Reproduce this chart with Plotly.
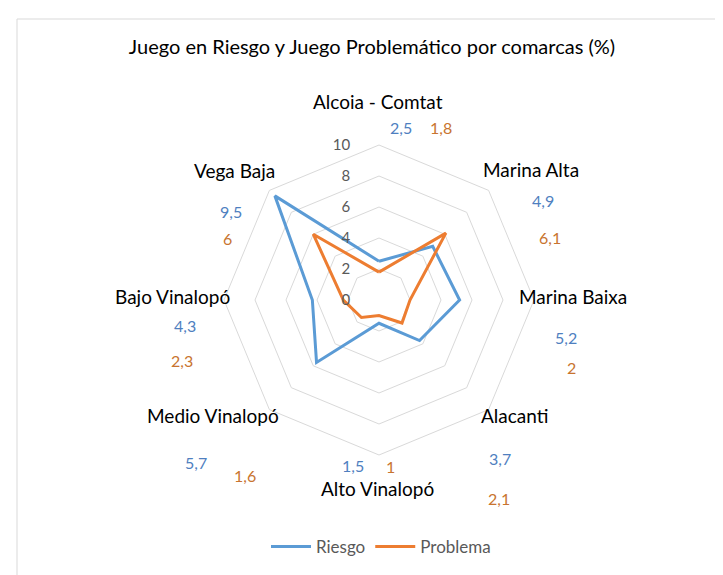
import plotly.graph_objects as go

# ---- data ----
categories = ["Alcoia - Comtat", "Marina Alta", "Marina Baixa", "Alacanti",
              "Alto Vinalopó", "Medio Vinalopó", "Bajo Vinalopó", "Vega Baja"]
riesgo = [2.5, 4.9, 5.2, 3.7, 1.5, 5.7, 4.3, 9.5]
problema = [1.8, 6.1, 2.0, 2.1, 1.0, 1.6, 2.3, 6.0]
radial_ticks = [0, 2, 4, 6, 8, 10]
title_text = "Juego en Riesgo y Juego Problemático por comarcas (%)"

# ---- styling / layout ----
W, H = 723, 575
FONT = "Lato, 'Open Sans', sans-serif"
BLUE = "#5B9BD5"
ORANGE = "#ED7D31"
BLUE_TXT = "#4F7FBF"
ORANGE_TXT = "#C8742F"
GRID = "#D9D9D9"

cx, cy, rad = 371, 292, 155  # pixel centre / radius of the radar
DY = -8  # vertical text correction
FS = "\u2007"  # figure space, pushes the centred radial tick labels to the left of the axis


def px(x):
    return x / W


def py(y):
    return 1 - y / H


def fmt(v):
    s = ("%g" % v)
    return s.replace(".", ",")


def closed(lst):
    return list(lst) + [lst[0]]


tick_text = [str(t) + FS * 3 for t in radial_ticks]

fig = go.Figure()
fig.add_trace(go.Scatterpolar(r=closed(riesgo), theta=closed(categories), mode="lines",
                              name="Riesgo", line=dict(color=BLUE, width=3)))
fig.add_trace(go.Scatterpolar(r=closed(problema), theta=closed(categories), mode="lines",
                              name="Problema", line=dict(color=ORANGE, width=3)))

# label placement (pixel centres) for category names and data labels
cat_pos = [(370, 102), (523, 169), (565, 296), (507, 415),
           (369, 488), (205, 416), (164, 296), (226, 170)]
riesgo_pos = [(393, 127), (535, 200), (558, 337), (492, 458),
              (345, 465), (188, 462), (177, 325), (223, 212)]
problema_pos = [(433, 127), (542, 237), (563, 367), (491, 498),
                (382, 466), (237, 475), (174, 360), (220, 238)]

annotations = []
for name, (x, y) in zip(categories, cat_pos):
    annotations.append(dict(x=px(x), y=py(y + DY), xref="paper", yref="paper", text=name,
                            showarrow=False, xanchor="center", yanchor="middle",
                            font=dict(family=FONT, size=19, color="#000000")))
for v, (x, y) in zip(riesgo, riesgo_pos):
    annotations.append(dict(x=px(x), y=py(y + DY), xref="paper", yref="paper", text=fmt(v),
                            showarrow=False, xanchor="center", yanchor="middle",
                            font=dict(family=FONT, size=16, color=BLUE_TXT)))
for v, (x, y) in zip(problema, problema_pos):
    annotations.append(dict(x=px(x), y=py(y + DY), xref="paper", yref="paper", text=fmt(v),
                            showarrow=False, xanchor="center", yanchor="middle",
                            font=dict(family=FONT, size=16, color=ORANGE_TXT)))

fig.update_layout(
    width=W, height=H,
    margin=dict(l=0, r=0, t=0, b=0),
    paper_bgcolor="white",
    plot_bgcolor="white",
    title=dict(text=title_text, x=px(364), xanchor="center", y=py(47 + DY), yanchor="middle",
               font=dict(family=FONT, size=20, color="#000000")),
    polar=dict(
        domain=dict(x=[px(cx - rad), px(cx + rad)], y=[py(cy + rad), py(cy - rad)]),
        bgcolor="white",
        gridshape="linear",
        radialaxis=dict(range=[0, 10], tickvals=radial_ticks, ticktext=tick_text, angle=90,
                        side="counterclockwise", tickangle=90,
                        showline=False, ticks="", gridcolor=GRID, gridwidth=1,
                        tickfont=dict(family=FONT, size=15, color="#595959")),
        angularaxis=dict(direction="clockwise", rotation=90, showgrid=False,
                         showline=True, linecolor=GRID, linewidth=1,
                         showticklabels=False, ticks=""),
    ),
    showlegend=True,
    legend=dict(orientation="h", x=px(373), xanchor="center", y=py(545 + DY + 2), yanchor="middle",
                font=dict(family=FONT, size=17, color="#595959"),
                itemwidth=40, tracegroupgap=0, bgcolor="rgba(0,0,0,0)"),
    annotations=annotations,
    shapes=[dict(type="rect", xref="paper", yref="paper",
                 x0=px(9), x1=1.02, y0=-0.02, y1=py(11),
                 line=dict(color=GRID, width=1), fillcolor="rgba(0,0,0,0)", layer="below")],
)

fig.write_html("out.html")
